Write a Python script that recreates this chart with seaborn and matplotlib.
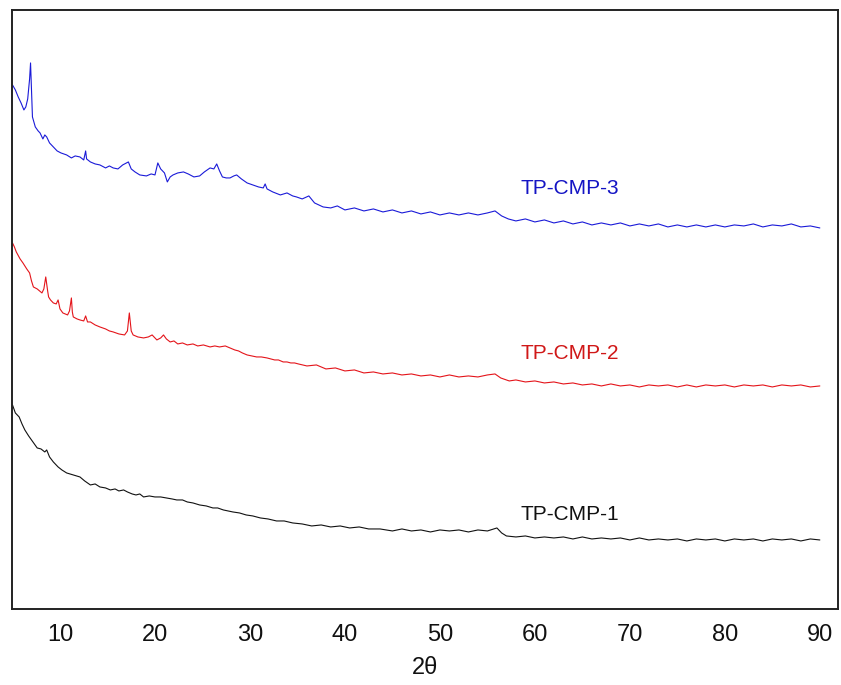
"""XRD patterns of the TP-CMP samples, stacked with vertical offsets."""
import matplotlib
matplotlib.use("Agg")
import matplotlib.pyplot as plt
import pandas as pd
import seaborn as sns

# ---- data (intensity in arbitrary, offset units) ----
cmp3_2theta = [5.0, 5.3, 5.6, 5.9, 6.2, 6.4, 6.6, 6.8, 6.9, 7.0, 7.1, 7.4, 7.7, 7.9,
               8.2, 8.4, 8.6, 8.9, 9.3, 9.7, 10.1, 10.7, 11.2, 11.6, 12.1, 12.5, 12.7,
               12.8, 13.2, 13.7, 14.2, 14.8, 15.2, 15.6, 16.1, 16.6, 17.2, 17.5, 17.9,
               18.4, 19.1, 19.6, 20.0, 20.3, 20.6, 21.0, 21.3, 21.6, 21.9, 22.4, 23.0,
               23.5, 24.1, 24.7, 25.2, 25.8, 26.2, 26.5, 26.8, 27.1, 27.5, 27.9, 28.3,
               28.6, 29.1, 29.7, 30.3, 30.9, 31.4, 31.6, 31.8, 32.4, 33.2, 33.9, 34.5,
               34.9, 35.5, 36.2, 36.8, 37.7, 38.5, 39.2, 40.0, 41.0, 42.0, 43.0, 44.0,
               45.0, 46.0, 47.0, 48.0, 49.0, 50.0, 51.0, 52.0, 53.0, 54.0, 55.0, 55.8,
               56.5, 57.2, 58.0, 59.0, 60.0, 61.0, 62.0, 63.0, 64.0, 65.0, 66.0, 67.0,
               68.0, 69.0, 70.0, 71.0, 72.0, 73.0, 74.0, 75.0, 76.0, 77.0, 78.0, 79.0,
               80.0, 81.0, 82.0, 83.0, 84.0, 85.0, 86.0, 87.0, 88.0, 89.0, 90.0]
cmp3_int = [524, 519, 512, 506, 499, 502, 510, 530, 546, 520, 492, 482, 478, 476,
            470, 474, 472, 466, 462, 458, 456, 454, 451, 453, 452, 449, 458,
            450, 447, 445, 444, 441, 443, 441, 440, 444, 447, 440, 437,
            434, 433, 435, 434, 446, 440, 436, 427, 432, 434, 436, 437,
            435, 432, 433, 437, 441, 440, 445, 438, 432, 431, 431, 433,
            434, 430, 426, 424, 422, 421, 425, 420, 417, 414, 416, 413,
            412, 410, 413, 406, 402, 401, 403, 399, 401, 398, 400, 397,
            399, 396, 398, 395, 397, 394, 396, 394, 396, 394, 396, 398,
            393, 390, 388, 390, 387, 389, 386, 388, 385, 387, 384, 386,
            384, 386, 383, 385, 383, 385, 382, 384, 382, 384, 382, 384,
            382, 384, 383, 385, 382, 384, 383, 385, 382, 383, 381]

cmp2_2theta = [5.0, 5.2, 5.4, 5.8, 6.1, 6.5, 6.8, 7.0, 7.2, 7.6, 8.1, 8.3, 8.5, 8.7,
               8.8, 9.0, 9.3, 9.6, 9.8, 10.0, 10.3, 10.8, 11.0, 11.2, 11.3, 11.4, 11.8,
               12.1, 12.5, 12.7, 12.9, 13.2, 13.7, 14.2, 14.8, 15.2, 15.6, 16.2, 16.8,
               17.1, 17.3, 17.5, 17.7, 18.2, 18.8, 19.3, 19.7, 20.2, 20.6, 20.9, 21.2,
               21.6, 22.0, 22.4, 22.9, 23.4, 24.0, 24.5, 25.1, 25.8, 26.3, 26.8, 27.4,
               27.9, 28.4, 28.8, 29.2, 29.7, 30.2, 30.7, 31.2, 31.8, 32.2, 32.6, 33.0,
               33.5, 33.9, 34.3, 34.7, 35.1, 36.0, 37.0, 38.0, 39.0, 40.0, 41.0, 42.0,
               43.0, 44.0, 45.0, 46.0, 47.0, 48.0, 49.0, 50.0, 51.0, 52.0, 53.0, 54.0,
               55.0, 55.8, 56.4, 57.3, 58.0, 59.0, 60.0, 61.0, 62.0, 63.0, 64.0, 65.0,
               66.0, 67.0, 68.0, 69.0, 70.0, 71.0, 72.0, 73.0, 74.0, 75.0, 76.0, 77.0,
               78.0, 79.0, 80.0, 81.0, 82.0, 83.0, 84.0, 85.0, 86.0, 87.0, 88.0, 89.0,
               90.0]
cmp2_int = [366, 362, 357, 350, 346, 340, 336, 328, 322, 320, 316, 320, 332, 318,
            312, 309, 306, 305, 309, 300, 296, 294, 298, 311, 297, 292, 290,
            289, 288, 293, 287, 287, 284, 282, 280, 278, 277, 275, 274,
            278, 296, 278, 274, 272, 271, 272, 274, 269, 271, 274, 270,
            267, 268, 265, 266, 264, 265, 263, 264, 262, 263, 262, 263,
            261, 259, 258, 256, 254, 253, 252, 252, 251, 250, 249, 249,
            247, 247, 246, 246, 245, 243, 244, 240, 241, 238, 239, 236,
            237, 235, 236, 234, 235, 233, 234, 232, 234, 232, 233, 232,
            234, 235, 231, 228, 229, 227, 228, 226, 227, 225, 226, 224,
            225, 223, 225, 223, 224, 222, 224, 223, 224, 222, 224, 222,
            224, 223, 224, 222, 224, 223, 224, 222, 224, 223, 224, 222,
            223]

cmp1_2theta = [5.0, 5.3, 5.7, 6.0, 6.3, 6.7, 7.0, 7.3, 7.6, 8.0, 8.4, 8.6, 8.9, 9.3,
               9.8, 10.2, 10.7, 11.4, 12.1, 12.6, 13.2, 13.7, 14.2, 14.8, 15.3, 15.8,
               16.2, 16.7, 17.1, 17.6, 18.0, 18.4, 18.8, 19.4, 20.0, 20.6, 21.2, 21.8,
               22.3, 22.9, 23.4, 24.0, 24.7, 25.4, 26.1, 26.6, 27.2, 27.7, 28.2, 28.9,
               29.6, 30.3, 31.1, 31.9, 32.8, 33.6, 34.5, 35.5, 36.5, 37.5, 38.5, 39.5,
               40.5, 41.5, 42.5, 43.7, 45.0, 46.0, 47.0, 48.0, 49.0, 50.0, 51.0, 52.0,
               53.0, 54.0, 55.0, 56.0, 56.5, 57.0, 58.0, 59.0, 60.0, 61.0, 62.0, 63.0,
               64.0, 65.0, 66.0, 67.0, 68.0, 69.0, 70.0, 71.0, 72.0, 73.0, 74.0, 75.0,
               76.0, 77.0, 78.0, 79.0, 80.0, 81.0, 82.0, 83.0, 84.0, 85.0, 86.0, 87.0,
               88.0, 89.0, 90.0]
cmp1_int = [204, 196, 192, 185, 179, 173, 169, 165, 161, 160, 157, 159, 152, 147,
            142, 139, 136, 134, 132, 128, 124, 125, 122, 121, 119, 120,
            118, 119, 117, 115, 114, 115, 112, 113, 112, 112, 111, 110,
            109, 109, 107, 106, 104, 103, 101, 101, 99, 98, 97, 96,
            94, 93, 91, 90, 88, 88, 86, 85, 83, 84, 82, 83,
            81, 82, 80, 80, 78, 80, 78, 79, 77, 79, 78, 79,
            77, 79, 78, 81, 76, 73, 72, 73, 71, 72, 71, 72,
            70, 72, 70, 71, 70, 71, 69, 71, 69, 70, 69, 70,
            68, 70, 69, 70, 68, 70, 69, 70, 68, 70, 69, 70,
            68, 70, 69]

samples = ["TP-CMP-3", "TP-CMP-2", "TP-CMP-1"]
line_colors = ["#1a1ad8", "#e4141a", "#111111"]
text_colors = ["#1414c4", "#d01818", "#111111"]

df = pd.concat([
    pd.DataFrame({"two_theta": cmp3_2theta, "intensity": cmp3_int, "sample": "TP-CMP-3"}),
    pd.DataFrame({"two_theta": cmp2_2theta, "intensity": cmp2_int, "sample": "TP-CMP-2"}),
    pd.DataFrame({"two_theta": cmp1_2theta, "intensity": cmp1_int, "sample": "TP-CMP-1"}),
])

sns.set_theme(style="white")
plt.rcParams["font.family"] = ["Liberation Sans", "DejaVu Sans"]

fig = plt.figure(figsize=(8.41, 6.85), dpi=100)
ax = fig.add_axes([0.0143, 0.111, 0.982, 0.8745])

sns.lineplot(data=df, x="two_theta", y="intensity", hue="sample",
             hue_order=samples, palette=dict(zip(samples, line_colors)),
             lw=0.8, legend=False, ax=ax, estimator=None, sort=False)

# sample labels sit just above each trace's tail
for name, col, xy in zip(samples, text_colors,
                         [(63.7, 420), (63.7, 255), (63.7, 94)]):
    ax.text(*xy, name, color=col, fontsize=15, ha="center", va="center")

ax.set_xlim(4.95, 91.9)
ax.set_ylim(0, 599)
ax.set_xticks(range(10, 91, 10))
ax.set_yticks([])
ax.tick_params(axis="x", length=0, pad=11, labelsize=17, colors="#111111")
ax.set_xlabel("2θ", fontsize=17, labelpad=8, color="#111111")
ax.set_ylabel("")
for sp in ax.spines.values():
    sp.set_color("#222222")
    sp.set_linewidth(1.4)

fig.savefig("out.png", dpi=100)
